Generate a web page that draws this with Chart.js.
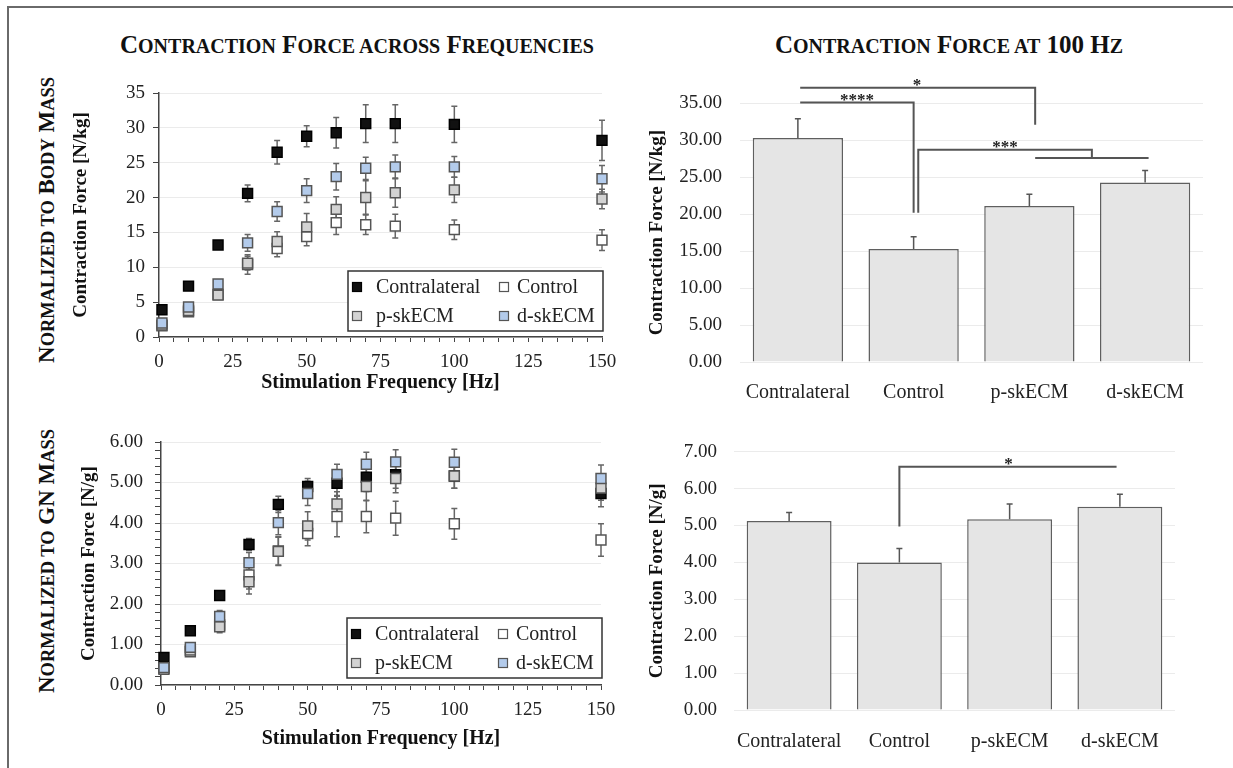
<!DOCTYPE html>
<html>
<head>
<meta charset="utf-8">
<script src="https://cdn.jsdelivr.net/npm/chart.js@4.4.1/dist/chart.umd.min.js"></script>
<style>
body { margin: 0; background: #fff; width: 1233px; height: 768px; overflow: hidden; position: relative; font-family: 'Liberation Serif', 'Times New Roman', serif; }
.frame { position: absolute; left: 7px; top: 6px; width: 1300px; height: 800px; border-left: 2px solid #6a6a6a; border-top: 2px solid #6a6a6a; }
canvas { position: absolute; }
.ttl { position: absolute; font-weight: bold; font-size: 25px; color: #111; white-space: nowrap; transform: translate(-50%, -50%); }
.row { position: absolute; font-weight: bold; font-size: 23px; color: #111; white-space: nowrap; transform: translate(-50%, -50%) rotate(-90deg); }
small { font-size: 0.8em; }
</style>
</head>
<body>
<div class="frame"></div>
<div class="ttl" style="left:357px;top:45px">C<small>ONTRACTION</small> F<small>ORCE ACROSS</small> F<small>REQUENCIES</small></div>
<div class="ttl" style="left:949px;top:45px">C<small>ONTRACTION</small> F<small>ORCE AT</small> 100 H<small>Z</small></div>
<div class="row" style="left:47px;top:220px">N<small>ORMALIZED TO</small> B<small>ODY</small> M<small>ASS</small></div>
<div class="row" style="left:47px;top:561px">N<small>ORMALIZED TO</small> GN M<small>ASS</small></div>

<canvas id="tl" width="630" height="345" style="left:0;top:60px"></canvas>
<canvas id="bl" width="630" height="350" style="left:0;top:410px"></canvas>
<canvas id="tr" width="603" height="345" style="left:630px;top:60px"></canvas>
<canvas id="br" width="603" height="350" style="left:630px;top:410px"></canvas>

<script>
// stimulation frequencies (Hz) and groups
const freqs = [1, 10, 20, 30, 40, 50, 60, 70, 80, 100, 150];
const groups = ['Contralateral', 'Control', 'p-skECM', 'd-skECM'];

// force normalized to body mass [N/kg]
const bodyContra = [3.9, 7.3, 13.2, 20.6, 26.5, 28.8, 29.3, 30.6, 30.6, 30.5, 28.2];
const bodyContraErr = [0.5, 0.4, 0.4, 1.2, 1.7, 1.5, 2.2, 2.7, 2.7, 2.6, 2.9];
const bodyControl = [1.6, 3.6, 6.1, 10.4, 12.7, 14.4, 16.4, 16.1, 15.9, 15.4, 13.9];
const bodyControlErr = [0.4, 0.5, 0.6, 1.4, 1.2, 1.3, 1.7, 1.4, 1.7, 1.4, 1.5];
const bodyP = [1.7, 3.8, 6.0, 10.6, 13.7, 15.8, 18.3, 20.0, 20.7, 21.1, 19.8];
const bodyPErr = [0.4, 0.5, 0.6, 1.0, 1.4, 1.9, 1.8, 2.4, 2.1, 1.8, 1.4];
const bodyD = [2.0, 4.3, 7.6, 13.5, 18.0, 21.0, 23.0, 24.2, 24.4, 24.4, 22.7];
const bodyDErr = [0.4, 0.5, 0.6, 1.2, 1.4, 1.7, 1.9, 1.6, 1.7, 1.5, 1.9];

// force normalized to GN mass [N/g]
const gnContra = [0.68, 1.34, 2.21, 3.47, 4.46, 4.90, 4.98, 5.13, 5.19, 5.16, 4.73];
const gnContraErr = [0.1, 0.1, 0.1, 0.15, 0.2, 0.2, 0.3, 0.35, 0.33, 0.3, 0.33];
const gnControl = [0.41, 0.82, 1.48, 2.72, 3.31, 3.74, 4.16, 4.16, 4.12, 3.98, 3.58];
const gnControlErr = [0.1, 0.1, 0.15, 0.35, 0.35, 0.3, 0.5, 0.4, 0.42, 0.38, 0.4];
const gnP = [0.39, 0.86, 1.44, 2.55, 3.3, 3.93, 4.47, 4.9, 5.1, 5.16, 4.86];
const gnPErr = [0.1, 0.1, 0.15, 0.3, 0.35, 0.35, 0.3, 0.35, 0.35, 0.3, 0.3];
const gnD = [0.43, 0.93, 1.69, 3.02, 4.01, 4.73, 5.2, 5.45, 5.51, 5.50, 5.10];
const gnDErr = [0.1, 0.1, 0.15, 0.25, 0.3, 0.3, 0.25, 0.3, 0.3, 0.32, 0.33];

// 100 Hz bars
const bar100Body = [30.3, 15.3, 21.1, 24.3];
const bar100BodyErr = [2.6, 1.65, 1.6, 1.6];
const bar100Gn = [5.12, 4.0, 5.17, 5.51];
const bar100GnErr = [0.23, 0.38, 0.41, 0.34];

// significance brackets: polylines in (category index, value) and star labels
const bodyBrackets = [
	[[0.02, 37.1], [2.05, 37.1], [2.05, 32.1]],
	[[0.02, 35.1], [1.0, 35.1], [1.0, 20.2]],
	[[1.04, 20.2], [1.04, 28.7], [2.54, 28.7], [2.54, 27.6]],
	[[2.05, 27.6], [3.03, 27.6]]
];
const bodyStars = [['*', 1.03, 37.1], ['****', 0.51, 35.1], ['***', 1.79, 28.7]];
const gnBrackets = [
	[[1.0, 4.97], [1.0, 6.59], [2.97, 6.59]]
];
const gnStars = [['*', 1.99, 6.59]];

Chart.defaults.font.family = "'Liberation Serif', 'Times New Roman', serif";
Chart.defaults.color = '#222';

const seriesStyle = [
	{ bg: '#111111', border: '#000000', order: 2 },
	{ bg: '#ffffff', border: '#555555', order: 3 },
	{ bg: '#d3d3d3', border: '#555555', order: 1 },
	{ bg: '#b3cbeb', border: '#555555', order: 0 }
];

const errorBars = {
	id: 'errorBars',
	beforeDatasetsDraw(chart, args, opts) { if (opts.under) drawErrors(chart, opts); },
	afterDatasetsDraw(chart, args, opts) { if (!opts.under) drawErrors(chart, opts); }
};

function drawErrors(chart, opts) {
	const ctx = chart.ctx;
	const yScale = chart.scales.y;
	ctx.save();
	ctx.strokeStyle = opts.color;
	ctx.lineWidth = 1.5;
	chart.data.datasets.forEach((ds, i) => {
		if (!ds.errors) return;
		const meta = chart.getDatasetMeta(i);
		meta.data.forEach((el, j) => {
			const raw = ds.data[j];
			const v = typeof raw === 'number' ? raw : raw.y;
			const e = ds.errors[j];
			const top = yScale.getPixelForValue(v + e);
			const bot = opts.upOnly ? yScale.getPixelForValue(v) : yScale.getPixelForValue(v - e);
			ctx.beginPath();
			ctx.moveTo(el.x, bot);
			ctx.lineTo(el.x, top);
			ctx.moveTo(el.x - opts.cap, top);
			ctx.lineTo(el.x + opts.cap, top);
			if (!opts.upOnly) {
				ctx.moveTo(el.x - opts.cap, bot);
				ctx.lineTo(el.x + opts.cap, bot);
			}
			ctx.stroke();
		});
	});
	ctx.restore();
}

const boxLegend = {
	id: 'boxLegend',
	afterDraw(chart, args, opts) {
		if (!opts.show) return;
		const { ctx, chartArea } = chart;
		const w = 255, h = 60;
		const left = chartArea.right + 1 - w;
		const top = chartArea.bottom - opts.gap - h;
		ctx.save();
		ctx.fillStyle = '#fff';
		ctx.fillRect(left, top, w, h);
		ctx.strokeStyle = '#333';
		ctx.lineWidth = 1.5;
		ctx.strokeRect(left, top, w, h);
		const markX = [9, 156];
		const textX = [28, 169];
		const rowY = [16, 45];
		ctx.font = "20px 'Liberation Serif'";
		ctx.textBaseline = 'middle';
		chart.data.datasets.forEach((ds, i) => {
			const c = i % 2, r = Math.floor(i / 2);
			const cx = left + markX[c], cy = top + rowY[r];
			ctx.fillStyle = ds.backgroundColor;
			ctx.fillRect(cx - 4.5, cy - 4.5, 9, 9);
			ctx.strokeStyle = ds.borderColor;
			ctx.lineWidth = 1.2;
			ctx.strokeRect(cx - 4.5, cy - 4.5, 9, 9);
			ctx.fillStyle = '#222';
			ctx.fillText(ds.label, left + textX[c], cy + 1);
		});
		ctx.restore();
	}
};

const brackets = {
	id: 'brackets',
	afterDraw(chart, args, opts) {
		if (!opts.lines) return;
		const { ctx } = chart;
		const xs = chart.scales.x, ys = chart.scales.y;
		ctx.save();
		ctx.strokeStyle = '#555';
		ctx.lineWidth = 2;
		opts.lines.forEach(line => {
			ctx.beginPath();
			line.forEach(([cx, v], k) => {
				const px = xs.getPixelForValue(cx), py = ys.getPixelForValue(v);
				if (k === 0) ctx.moveTo(px, py); else ctx.lineTo(px, py);
			});
			ctx.stroke();
		});
		ctx.fillStyle = '#222';
		ctx.font = "bold 17px 'Liberation Serif'";
		ctx.textAlign = 'center';
		ctx.textBaseline = 'alphabetic';
		opts.stars.forEach(([txt, cx, v]) => {
			ctx.fillText(txt, xs.getPixelForValue(cx), ys.getPixelForValue(v) + 2);
		});
		ctx.restore();
	}
};

function scatterSets(values, errors) {
	return groups.map((g, i) => ({
		label: g,
		data: freqs.map((f, j) => ({ x: f, y: values[i][j] })),
		errors: errors[i],
		backgroundColor: seriesStyle[i].bg,
		borderColor: seriesStyle[i].border,
		borderWidth: 1.5,
		pointStyle: 'rect',
		pointRadius: 7,
		order: seriesStyle[i].order,
		showLine: false,
		clip: false
	}));
}

function scatterOptions(cfg) {
	return {
		responsive: false,
		animation: false,
		layout: { padding: cfg.padding },
		plugins: {
			legend: { display: false },
			tooltip: { enabled: false },
			errorBars: { under: true, upOnly: false, cap: 3, color: '#666' },
			boxLegend: { show: true, gap: cfg.legendGap },
			brackets: {}
		},
		scales: {
			x: {
				type: 'linear', min: 0, max: 150,
				afterFit: s => { s.height = cfg.xHeight; },
				border: { display: true, color: '#444', width: 1.5 },
				grid: { drawOnChartArea: false, tickLength: 5, tickColor: '#444' },
				ticks: {
					stepSize: 5, autoSkip: false, maxRotation: 0, padding: cfg.xTickPad,
					font: { size: 19 }, color: '#222',
					callback: v => (v % 25 === 0 ? v : '')
				},
				title: {
					display: true, text: 'Stimulation Frequency [Hz]', color: '#111',
					font: { size: 20, weight: 'bold' }, padding: { top: 0, bottom: cfg.xTitlePad }
				}
			},
			y: {
				min: 0, max: cfg.yMax,
				afterFit: s => { s.width = cfg.yWidth; },
				border: { display: true, color: '#444', width: 1.5 },
				grid: {
					tickLength: 6, tickColor: '#444',
					color: c => (Math.abs(c.tick.value - Math.round(c.tick.value / cfg.yMajor) * cfg.yMajor) < 1e-6 ? '#ebebeb' : 'rgba(0,0,0,0)')
				},
				ticks: {
					stepSize: cfg.yStep, autoSkip: false, padding: cfg.yTickPad,
					font: { size: 19 }, color: '#222',
					callback: cfg.yLabel
				},
				title: {
					display: true, text: cfg.yTitle, color: '#111',
					font: { size: 19, weight: 'bold' }, padding: { top: cfg.yTitlePad, bottom: 0 }
				}
			}
		}
	};
}

new Chart(document.getElementById('tl'), {
	type: 'scatter',
	data: {
		datasets: scatterSets(
			[bodyContra, bodyControl, bodyP, bodyD],
			[bodyContraErr, bodyControlErr, bodyPErr, bodyDErr]
		)
	},
	options: scatterOptions({
		padding: { left: 60, top: 33, right: 28, bottom: 0 },
		xHeight: 68, xTickPad: 9, xTitlePad: 10,
		yMax: 35, yStep: 5, yMajor: 5, yWidth: 99, yTickPad: 8, yTitlePad: 10,
		yTitle: 'Contraction Force [N/kg]',
		yLabel: v => v,
		legendGap: 6
	}),
	plugins: [errorBars, boxLegend, brackets]
});

new Chart(document.getElementById('bl'), {
	type: 'scatter',
	data: {
		datasets: scatterSets(
			[gnContra, gnControl, gnP, gnD],
			[gnContraErr, gnControlErr, gnPErr, gnDErr]
		)
	},
	options: scatterOptions({
		padding: { left: 60, top: 32, right: 29, bottom: 0 },
		xHeight: 75, xTickPad: 9, xTitlePad: 9,
		yMax: 6, yStep: 0.2, yMajor: 1, yWidth: 101, yTickPad: 12, yTitlePad: 18,
		yTitle: 'Contraction Force [N/g]',
		yLabel: v => (Math.abs(v - Math.round(v)) < 1e-6 ? v.toFixed(2) : ''),
		legendGap: 7
	}),
	plugins: [errorBars, boxLegend, brackets]
});

function barOptions(cfg) {
	return {
		responsive: false,
		animation: false,
		layout: { padding: cfg.padding },
		plugins: {
			legend: { display: false },
			tooltip: { enabled: false },
			errorBars: { under: false, upOnly: true, cap: 3, color: '#555' },
			boxLegend: { show: false },
			brackets: { lines: cfg.lines, stars: cfg.stars }
		},
		scales: {
			x: {
				afterFit: s => { s.height = cfg.xHeight; },
				border: { display: false },
				grid: { display: false },
				ticks: { padding: cfg.xTickPad, font: { size: 20 }, color: '#222', maxRotation: 0, minRotation: 0, autoSkip: false }
			},
			y: {
				min: 0, max: cfg.yMax,
				afterFit: s => { s.width = cfg.yWidth; },
				border: { display: false },
				grid: { color: '#ebebeb', drawTicks: false },
				ticks: {
					stepSize: cfg.yStep, padding: cfg.yTickPad,
					font: { size: 19 }, color: '#222',
					callback: v => v.toFixed(2)
				},
				title: {
					display: true, text: cfg.yTitle, color: '#111',
					font: { size: 19, weight: 'bold' }, padding: { top: 15.6, bottom: 0 }
				}
			}
		}
	};
}

function barSet(values, errors, pct) {
	return [{
		data: values,
		errors: errors,
		backgroundColor: '#e5e5e5',
		borderColor: '#5f5f5f',
		borderWidth: 1.5,
		barPercentage: pct,
		categoryPercentage: 1
	}];
}

new Chart(document.getElementById('tr'), {
	type: 'bar',
	data: { labels: groups, datasets: barSet(bar100Body, bar100BodyErr, 0.78) },
	options: barOptions({
		padding: { left: 0, top: 43.3, right: 30, bottom: 0 },
		xHeight: 43, xTickPad: 11,
		yMax: 35, yStep: 5, yWidth: 110, yTickPad: 18,
		yTitle: 'Contraction Force [N/kg]',
		lines: bodyBrackets, stars: bodyStars
	}),
	plugins: [errorBars, boxLegend, brackets]
});

new Chart(document.getElementById('br'), {
	type: 'bar',
	data: { labels: groups, datasets: barSet(bar100Gn, bar100GnErr, 0.77) },
	options: barOptions({
		padding: { left: 0, top: 41.7, right: 58, bottom: 0 },
		xHeight: 50, xTickPad: 12,
		yMax: 7, yStep: 1, yWidth: 104, yTickPad: 17,
		yTitle: 'Contraction Force [N/g]',
		lines: gnBrackets, stars: gnStars
	}),
	plugins: [errorBars, boxLegend, brackets]
});
</script>
</body>
</html>
